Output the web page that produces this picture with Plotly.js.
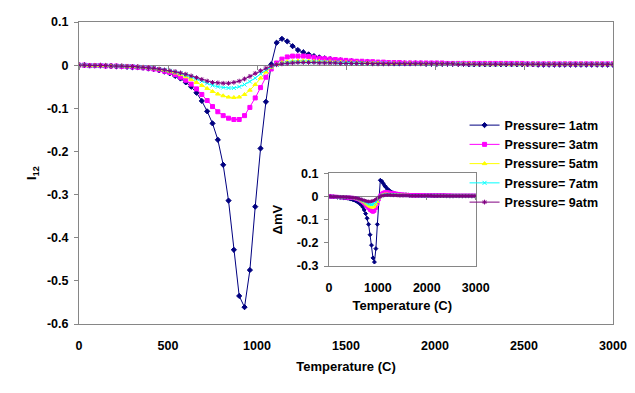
<!DOCTYPE html>
<html>
<head>
<meta charset="utf-8">
<script src="https://cdn.plot.ly/plotly-3.0.1.min.js"></script>
<style>
  body { margin: 0; background: #fff; }
  #chart { width: 635px; height: 393px; }
</style>
</head>
<body>
<div id="chart"></div>
<script>
// temperature (C), one reading every 30 degrees
const temperature = [
  0, 30, 60, 90, 120, 150, 180, 210, 240, 270,
  300, 330, 360, 390, 420, 450, 480, 510, 540, 570,
  600, 630, 660, 690, 720, 750, 780, 810, 840, 870,
  900, 930, 960, 990, 1020, 1050, 1080, 1110, 1140, 1170,
  1200, 1230, 1260, 1290, 1320, 1350, 1380, 1410, 1440, 1470,
  1500, 1530, 1560, 1590, 1620, 1650, 1680, 1710, 1740, 1770,
  1800, 1830, 1860, 1890, 1920, 1950, 1980, 2010, 2040, 2070,
  2100, 2130, 2160, 2190, 2220, 2250, 2280, 2310, 2340, 2370,
  2400, 2430, 2460, 2490, 2520, 2550, 2580, 2610, 2640, 2670,
  2700, 2730, 2760, 2790, 2820, 2850, 2880, 2910, 2940, 2970,
  3000
];

const seriesNames = ['Pressure= 1atm', 'Pressure= 3atm', 'Pressure= 5atm', 'Pressure= 7atm', 'Pressure= 9atm'];

// main chart: I12
const i12_1atm = [
  0, 0, -0.001, -0.001, -0.001, -0.002, -0.002, -0.003, -0.003, -0.004,
  -0.005, -0.005, -0.006, -0.008, -0.009, -0.012, -0.015, -0.019, -0.025, -0.031,
  -0.040, -0.050, -0.064, -0.083, -0.107, -0.135, -0.173, -0.231, -0.314, -0.428,
  -0.535, -0.561, -0.475, -0.328, -0.193, -0.085, 0.002, 0.052, 0.061, 0.055,
  0.044, 0.035, 0.030, 0.025, 0.021, 0.018, 0.016, 0.014, 0.012, 0.011,
  0.010, 0.009, 0.008, 0.007, 0.007, 0.006, 0.006, 0.005, 0.005, 0.005,
  0.004, 0.004, 0.004, 0.004, 0.004, 0.003, 0.003, 0.003, 0.003, 0.003,
  0.003, 0.003, 0.003, 0.002, 0.002, 0.002, 0.002, 0.002, 0.002, 0.002,
  0.002, 0.002, 0.002, 0.002, 0.002, 0.002, 0.001, 0.001, 0.001, 0.001,
  0.001, 0.001, 0.001, 0.001, 0.001, 0.001, 0.001, 0.001, 0.001, 0.001,
  0.001
];
const i12_3atm = [
  0, 0, -0.001, -0.001, -0.001, -0.002, -0.002, -0.002, -0.003, -0.003,
  -0.004, -0.005, -0.006, -0.007, -0.009, -0.011, -0.014, -0.017, -0.022, -0.028,
  -0.035, -0.044, -0.055, -0.068, -0.082, -0.096, -0.108, -0.117, -0.123, -0.126,
  -0.126, -0.117, -0.098, -0.076, -0.052, -0.028, -0.009, 0.005, 0.014, 0.019,
  0.021, 0.021, 0.021, 0.020, 0.018, 0.016, 0.015, 0.014, 0.013, 0.012,
  0.011, 0.010, 0.009, 0.009, 0.008, 0.008, 0.007, 0.007, 0.006, 0.006,
  0.006, 0.005, 0.005, 0.005, 0.005, 0.005, 0.005, 0.005, 0.005, 0.004,
  0.004, 0.004, 0.004, 0.004, 0.004, 0.004, 0.004, 0.004, 0.004, 0.004,
  0.004, 0.004, 0.004, 0.004, 0.003, 0.003, 0.003, 0.003, 0.003, 0.003,
  0.003, 0.003, 0.003, 0.003, 0.003, 0.003, 0.003, 0.003, 0.003, 0.003,
  0.003
];
const i12_5atm = [
  0, 0, -0.001, -0.001, -0.001, -0.001, -0.002, -0.002, -0.002, -0.003,
  -0.003, -0.004, -0.005, -0.006, -0.008, -0.010, -0.012, -0.015, -0.018, -0.022,
  -0.027, -0.033, -0.040, -0.047, -0.054, -0.061, -0.067, -0.071, -0.074, -0.075,
  -0.074, -0.068, -0.058, -0.045, -0.030, -0.016, -0.005, 0.002, 0.006, 0.008,
  0.009, 0.010, 0.010, 0.010, 0.009, 0.009, 0.008, 0.008, 0.007, 0.007,
  0.006, 0.006, 0.006, 0.005, 0.005, 0.005, 0.005, 0.004, 0.004, 0.004,
  0.004, 0.004, 0.004, 0.003, 0.003, 0.003, 0.003, 0.003, 0.003, 0.003,
  0.003, 0.003, 0.003, 0.003, 0.002, 0.002, 0.002, 0.002, 0.002, 0.002,
  0.002, 0.002, 0.002, 0.002, 0.002, 0.002, 0.002, 0.002, 0.002, 0.002,
  0.002, 0.002, 0.002, 0.002, 0.002, 0.002, 0.002, 0.002, 0.002, 0.002,
  0.002
];
const i12_7atm = [
  0, 0, -0.001, -0.001, -0.001, -0.001, -0.002, -0.002, -0.002, -0.003,
  -0.003, -0.004, -0.005, -0.006, -0.007, -0.009, -0.011, -0.013, -0.016, -0.019,
  -0.023, -0.027, -0.032, -0.037, -0.042, -0.047, -0.050, -0.052, -0.053, -0.053,
  -0.050, -0.045, -0.038, -0.030, -0.020, -0.011, -0.004, 0.001, 0.004, 0.006,
  0.007, 0.007, 0.008, 0.008, 0.007, 0.007, 0.007, 0.006, 0.006, 0.006,
  0.005, 0.005, 0.005, 0.005, 0.004, 0.004, 0.004, 0.004, 0.004, 0.003,
  0.003, 0.003, 0.003, 0.003, 0.003, 0.003, 0.003, 0.003, 0.003, 0.003,
  0.003, 0.003, 0.002, 0.002, 0.002, 0.002, 0.002, 0.002, 0.002, 0.002,
  0.002, 0.002, 0.002, 0.002, 0.002, 0.002, 0.002, 0.002, 0.002, 0.002,
  0.002, 0.002, 0.002, 0.002, 0.002, 0.002, 0.002, 0.002, 0.002, 0.002,
  0.002
];
const i12_9atm = [
  0, 0, -0.001, -0.001, -0.001, -0.001, -0.002, -0.002, -0.002, -0.003,
  -0.003, -0.004, -0.005, -0.006, -0.007, -0.009, -0.011, -0.013, -0.015, -0.018,
  -0.021, -0.025, -0.029, -0.033, -0.037, -0.040, -0.041, -0.042, -0.042, -0.040,
  -0.037, -0.032, -0.026, -0.019, -0.013, -0.007, -0.002, 0.001, 0.003, 0.004,
  0.005, 0.006, 0.006, 0.006, 0.006, 0.005, 0.005, 0.005, 0.005, 0.004,
  0.004, 0.004, 0.004, 0.004, 0.004, 0.003, 0.003, 0.003, 0.003, 0.003,
  0.003, 0.003, 0.003, 0.003, 0.003, 0.003, 0.003, 0.003, 0.003, 0.003,
  0.003, 0.002, 0.002, 0.002, 0.002, 0.002, 0.002, 0.002, 0.002, 0.002,
  0.002, 0.002, 0.002, 0.002, 0.002, 0.002, 0.002, 0.002, 0.002, 0.002,
  0.002, 0.002, 0.002, 0.002, 0.002, 0.002, 0.002, 0.002, 0.002, 0.002,
  0.002
];

// inset chart: delta mV
const dmv_1atm = [
  0, 0, -0.001, -0.001, -0.002, -0.002, -0.003, -0.003, -0.004, -0.004,
  -0.005, -0.006, -0.007, -0.008, -0.009, -0.011, -0.013, -0.015, -0.018, -0.021,
  -0.025, -0.030, -0.036, -0.045, -0.058, -0.074, -0.094, -0.120, -0.165, -0.210,
  -0.265, -0.283, -0.225, -0.120, -0.010, 0.070, 0.066, 0.056, 0.046, 0.039,
  0.031, 0.026, 0.021, 0.017, 0.014, 0.012, 0.010, 0.009, 0.008, 0.007,
  0.006, 0.006, 0.006, 0.006, 0.006, 0.005, 0.005, 0.005, 0.005, 0.005,
  0.005, 0.005, 0.005, 0.004, 0.004, 0.004, 0.004, 0.004, 0.004, 0.004,
  0.004, 0.004, 0.004, 0.004, 0.004, 0.004, 0.004, 0.004, 0.004, 0.004,
  0.003, 0.003, 0.003, 0.003, 0.003, 0.003, 0.003, 0.003, 0.003, 0.003,
  0.003, 0.003, 0.003, 0.003, 0.003, 0.003, 0.003, 0.003, 0.003, 0.003,
  0.003
];
const dmv_3atm = [
  0, 0, -0.001, -0.001, -0.001, -0.002, -0.002, -0.002, -0.003, -0.003,
  -0.003, -0.004, -0.004, -0.005, -0.005, -0.006, -0.006, -0.007, -0.008, -0.010,
  -0.012, -0.015, -0.019, -0.024, -0.030, -0.037, -0.044, -0.051, -0.058, -0.063,
  -0.066, -0.062, -0.050, -0.032, -0.012, 0.004, 0.012, 0.016, 0.018, 0.018,
  0.018, 0.017, 0.016, 0.015, 0.014, 0.013, 0.012, 0.011, 0.010, 0.009,
  0.008, 0.008, 0.007, 0.007, 0.006, 0.006, 0.006, 0.005, 0.005, 0.005,
  0.005, 0.005, 0.005, 0.005, 0.005, 0.004, 0.004, 0.004, 0.004, 0.004,
  0.004, 0.004, 0.004, 0.004, 0.004, 0.004, 0.004, 0.004, 0.004, 0.004,
  0.004, 0.004, 0.004, 0.004, 0.003, 0.003, 0.003, 0.003, 0.003, 0.003,
  0.003, 0.003, 0.003, 0.003, 0.003, 0.003, 0.003, 0.003, 0.003, 0.003,
  0.003
];
const dmv_5atm = [
  0, 0, -0.001, -0.001, -0.001, -0.001, -0.002, -0.002, -0.002, -0.002,
  -0.003, -0.003, -0.004, -0.004, -0.005, -0.005, -0.006, -0.006, -0.007, -0.009,
  -0.011, -0.014, -0.017, -0.021, -0.025, -0.030, -0.035, -0.040, -0.044, -0.047,
  -0.047, -0.043, -0.034, -0.022, -0.010, -0.001, 0.005, 0.008, 0.010, 0.010,
  0.010, 0.009, 0.009, 0.008, 0.008, 0.007, 0.007, 0.006, 0.006, 0.006,
  0.005, 0.005, 0.005, 0.005, 0.005, 0.004, 0.004, 0.004, 0.004, 0.004,
  0.004, 0.004, 0.004, 0.003, 0.003, 0.003, 0.003, 0.003, 0.003, 0.003,
  0.003, 0.003, 0.003, 0.003, 0.003, 0.002, 0.002, 0.002, 0.002, 0.002,
  0.002, 0.002, 0.002, 0.002, 0.002, 0.002, 0.002, 0.002, 0.002, 0.002,
  0.002, 0.002, 0.002, 0.002, 0.002, 0.002, 0.002, 0.002, 0.002, 0.002,
  0.002
];
const dmv_7atm = [
  0, 0, -0.001, -0.001, -0.001, -0.001, -0.002, -0.002, -0.002, -0.002,
  -0.003, -0.003, -0.003, -0.004, -0.004, -0.005, -0.005, -0.006, -0.006, -0.008,
  -0.010, -0.012, -0.015, -0.018, -0.021, -0.025, -0.029, -0.032, -0.034, -0.035,
  -0.034, -0.030, -0.024, -0.016, -0.008, -0.001, 0.003, 0.006, 0.007, 0.008,
  0.008, 0.008, 0.007, 0.007, 0.007, 0.006, 0.006, 0.006, 0.005, 0.005,
  0.005, 0.005, 0.004, 0.004, 0.004, 0.004, 0.004, 0.004, 0.004, 0.004,
  0.004, 0.004, 0.003, 0.003, 0.003, 0.003, 0.003, 0.003, 0.003, 0.003,
  0.003, 0.003, 0.003, 0.002, 0.002, 0.002, 0.002, 0.002, 0.002, 0.002,
  0.002, 0.002, 0.002, 0.002, 0.002, 0.002, 0.002, 0.002, 0.002, 0.002,
  0.002, 0.002, 0.002, 0.002, 0.002, 0.002, 0.002, 0.002, 0.002, 0.002,
  0.002
];
const dmv_9atm = [
  0, 0, -0.001, -0.001, -0.001, -0.001, -0.001, -0.002, -0.002, -0.002,
  -0.002, -0.003, -0.003, -0.003, -0.004, -0.004, -0.005, -0.005, -0.006, -0.007,
  -0.009, -0.011, -0.013, -0.015, -0.017, -0.019, -0.021, -0.022, -0.022, -0.021,
  -0.019, -0.016, -0.012, -0.008, -0.004, 0.000, 0.003, 0.004, 0.005, 0.006,
  0.006, 0.006, 0.006, 0.005, 0.005, 0.005, 0.005, 0.004, 0.004, 0.004,
  0.004, 0.004, 0.004, 0.004, 0.004, 0.003, 0.003, 0.003, 0.003, 0.003,
  0.003, 0.003, 0.003, 0.003, 0.003, 0.003, 0.003, 0.003, 0.003, 0.003,
  0.003, 0.002, 0.002, 0.002, 0.002, 0.002, 0.002, 0.002, 0.002, 0.002,
  0.002, 0.002, 0.002, 0.002, 0.002, 0.002, 0.002, 0.002, 0.002, 0.002,
  0.002, 0.002, 0.002, 0.002, 0.002, 0.002, 0.002, 0.002, 0.002, 0.002,
  0.002
];

const xTicks = [0, 500, 1000, 1500, 2000, 2500, 3000];
const insetXTicks = [0, 1000, 2000, 3000];
const yTicks = [0.1, 0, -0.1, -0.2, -0.3, -0.4, -0.5, -0.6];
const yTickText = ['0.1', '0', '-0.1', '-0.2', '-0.3', '-0.4', '-0.5', '-0.6'];
const insetYTicks = [0.1, 0, -0.1, -0.2, -0.3];
const insetYTickText = ['0.1', '0', '-0.1', '-0.2', '-0.3'];

const colors = ['#000080', '#FF00FF', '#FFFF00', '#00FFFF', '#800080'];
const symbols = ['diamond', 'square', 'triangle-up', 'x-thin-open', 'asterisk-open'];
const mainSeries = [i12_1atm, i12_3atm, i12_5atm, i12_7atm, i12_9atm];
const insetSeries = [dmv_1atm, dmv_3atm, dmv_5atm, dmv_7atm, dmv_9atm];

const family = 'Liberation Sans, Arial, sans-serif';
const tickFont = { family: family, size: 12.5, color: '#000', weight: 'bold' };
const titleFont = { family: family, size: 13, color: '#000', weight: 'bold' };
const grey = '#868686';

const traces = [];
mainSeries.forEach((ys, k) => {
  traces.push({
    x: temperature, y: ys, name: seriesNames[k], type: 'scatter', mode: 'lines+markers',
    line: { color: colors[k], width: 1 },
    marker: { symbol: symbols[k], size: 4, color: colors[k], line: { color: colors[k], width: 1 } },
    xaxis: 'x', yaxis: 'y'
  });
});
insetSeries.forEach((ys, k) => {
  traces.push({
    x: temperature, y: ys, name: seriesNames[k], type: 'scatter', mode: 'lines+markers',
    showlegend: false,
    line: { color: colors[k], width: 1 },
    marker: { symbol: symbols[k], size: 3, color: colors[k], line: { color: colors[k], width: 1 } },
    xaxis: 'x2', yaxis: 'y2'
  });
});
// empty traces so the tick-only axes on the zero lines get drawn
traces.push({ x: [], y: [], xaxis: 'x3', yaxis: 'y', showlegend: false, hoverinfo: 'skip' });
traces.push({ x: [], y: [], xaxis: 'x4', yaxis: 'y2', showlegend: false, hoverinfo: 'skip' });

const layout = {
  width: 635, height: 393,
  margin: { l: 79, r: 22, t: 22, b: 69 },
  paper_bgcolor: '#fff', plot_bgcolor: '#fff',
  font: tickFont,
  showlegend: true,
  legend: {
    x: 0.722, y: 0.707, xanchor: 'left', yanchor: 'top',
    font: { family: family, size: 12.5, color: '#000', weight: 'bold' },
    bgcolor: 'rgba(0,0,0,0)', tracegroupgap: 0
  },
  xaxis: {
    domain: [0, 1], range: [0, 3000], anchor: 'y',
    tickvals: xTicks, ticks: '', ticklabelstandoff: 10, tickfont: tickFont,
    showline: true, linecolor: grey, mirror: true, showgrid: false, zeroline: false,
    title: { text: 'Temperature (C)', font: titleFont, standoff: 9 }
  },
  xaxis3: {
    overlaying: 'x', matches: 'x', anchor: 'free', position: 0.857,
    tickvals: xTicks, ticks: 'outside', ticklen: 4, tickcolor: grey,
    showticklabels: false, showline: false, showgrid: false, zeroline: false
  },
  yaxis: {
    domain: [0, 1], range: [-0.6, 0.1], anchor: 'x',
    tickvals: yTicks, ticktext: yTickText, ticks: 'outside', ticklen: 4, tickcolor: grey,
    tickfont: tickFont, ticklabelstandoff: 3,
    showline: true, linecolor: grey, mirror: true, showgrid: false,
    zeroline: true, zerolinecolor: grey, zerolinewidth: 1,
    title: { text: 'I<sub>12</sub>', font: titleFont, standoff: 7 }
  },
  xaxis2: {
    domain: [0.468, 0.743], range: [0, 3000], anchor: 'y2',
    tickvals: insetXTicks, ticks: '', ticklabelstandoff: 10, tickfont: tickFont,
    showline: true, linecolor: grey, mirror: true, showgrid: false, zeroline: false,
    title: { text: 'Temperature (C)', font: titleFont, standoff: 6 }
  },
  xaxis4: {
    overlaying: 'x2', matches: 'x2', anchor: 'free', position: 0.424,
    tickvals: insetXTicks, ticks: 'outside', ticklen: 3, tickcolor: grey,
    showticklabels: false, showline: false, showgrid: false, zeroline: false
  },
  yaxis2: {
    domain: [0.192, 0.499], range: [-0.3, 0.1], anchor: 'x2',
    tickvals: insetYTicks, ticktext: insetYTickText, ticks: 'outside', ticklen: 4, tickcolor: grey,
    tickfont: tickFont, ticklabelstandoff: 3,
    showline: true, linecolor: grey, mirror: true, showgrid: false,
    zeroline: true, zerolinecolor: grey, zerolinewidth: 1,
    title: { text: 'ΔmV', font: titleFont, standoff: 11 }
  }
};

Plotly.newPlot('chart', traces, layout, { displayModeBar: false, staticPlot: true });
</script>
</body>
</html>
